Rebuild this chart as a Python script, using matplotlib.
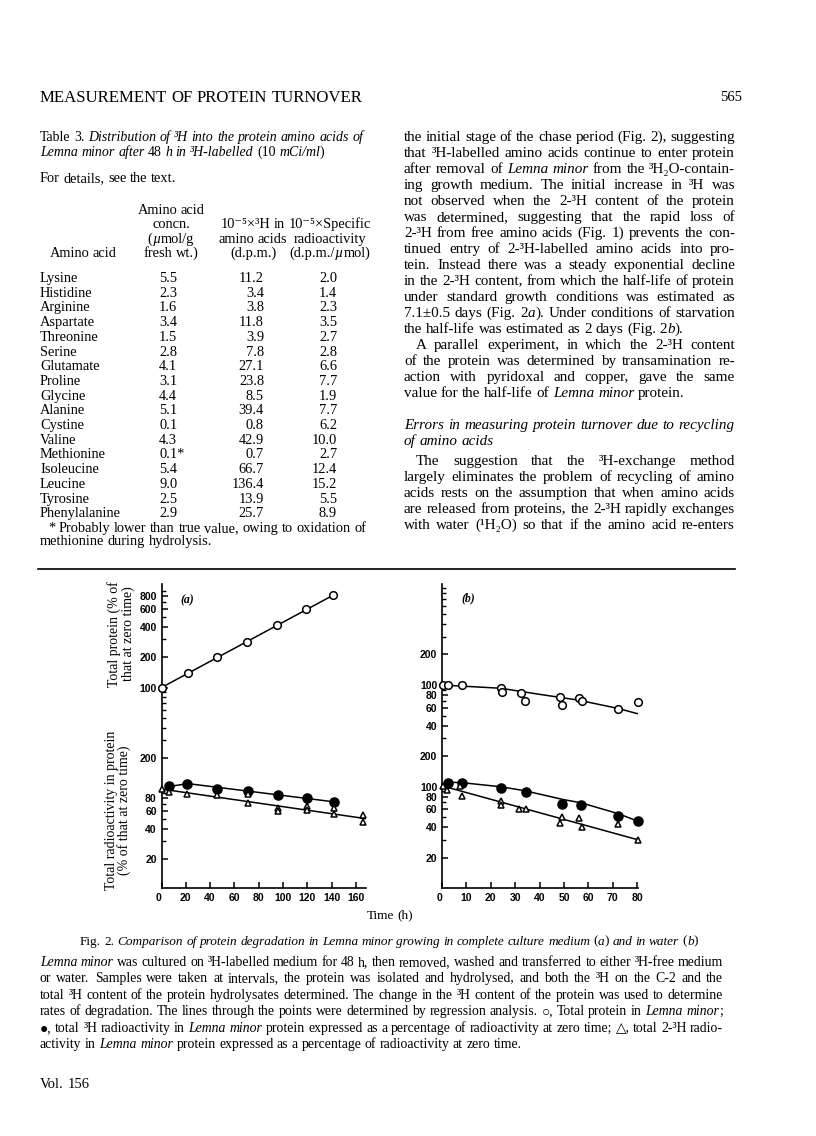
import numpy as np
import matplotlib
matplotlib.use("Agg")
import matplotlib.pyplot as plt
from matplotlib.ticker import FixedLocator, FixedFormatter, LogLocator, NullFormatter

# ---------------- Table 3 ----------------
amino_acids = ["Lysine", "Histidine", "Arginine", "Aspartate", "Threonine", "Serine",
               "Glutamate", "Proline", "Glycine", "Alanine", "Cystine", "Valine",
               "Methionine", "Isoleucine", "Leucine", "Tyrosine", "Phenylalanine"]
concn = [5.5, 2.3, 1.6, 3.4, 1.5, 2.8, 4.1, 3.1, 4.4, 5.1, 0.1, 4.3, 0.1, 5.4, 9.0, 2.5, 2.9]
h3_dpm = [11.2, 3.4, 3.8, 11.8, 3.9, 7.8, 27.1, 23.8, 8.5, 39.4, 0.8, 42.9, 0.7, 66.7, 136.4, 13.9, 25.7]
spec_act = [2.0, 1.4, 2.3, 3.5, 2.7, 2.8, 6.6, 7.7, 1.9, 7.7, 6.2, 10.0, 2.7, 12.4, 15.2, 5.5, 8.9]
concn_note = {"Methionine": "*"}

# ---------------- Fig. 2(a): complete culture medium ----------------
a_prot_t = [0, 22, 46, 70, 95, 119, 141]
a_prot_v = [100, 140, 200, 283, 417, 592, 820]
a_prot_fit_t = [0, 141]
a_prot_fit_v = [100, 815]
a_tot_t = [6, 21, 46, 71, 96, 120, 142]
a_tot_v = [105, 111, 99, 94, 86, 81, 74]
a_tot_fit_t = [6, 22, 142]
a_tot_fit_v = [105, 112, 74]
a_c2_t = [0, 6, 21, 46, 71, 71, 96, 96, 120, 120, 142, 142, 166, 166]
a_c2_v = [99, 93, 89, 86, 88, 72, 64, 59.5, 67, 62, 64, 56, 55, 47]
a_c2_fit_t = [0, 168]
a_c2_fit_v = [99, 50.5]

# ---------------- Fig. 2(b): water ----------------
b_prot_t = [0.5, 2.3, 8.3, 24, 24.7, 32.2, 34.2, 48.2, 49.2, 56, 57.2, 72.3, 80.3]
b_prot_v = [100, 100, 99, 94, 85, 83, 70, 76, 63, 75, 69, 58, 68]
b_prot_fit_t = [0, 24, 40, 56, 72, 80.5]
b_prot_fit_v = [100, 93, 81, 71, 59, 52]
b_tot_t = [2.6, 8.3, 24.2, 34.3, 49.3, 57, 72.3, 80.2]
b_tot_v = [110, 108, 98, 89, 68, 66, 51, 46]
b_tot_fit_t = [2, 8.3, 24, 34, 49.5, 57, 72.3, 80.5]
b_tot_fit_v = [111, 109.6, 100, 91.3, 75, 69.5, 54.3, 45.6]
b_c2_t = [0.5, 2.2, 7.3, 8, 24.2, 24.2, 31.7, 34.3, 48.4, 49.1, 56, 57.2, 72.3, 80.2]
b_c2_v = [102, 93, 101, 81, 72, 66, 61, 60, 44, 50, 49, 40, 43, 30]
b_c2_fit_t = [0, 80.5]
b_c2_fit_v = [102, 30]

# upper (total protein) curves sit one decade above the radioactivity curves
UP = 10
a_ticks = [8000, 6000, 4000, 2000, 1000, 200, 80, 60, 40, 20]
a_labels = ["800", "600", "400", "200", "100", "200", "80", "60", "40", "20"]
b_ticks = [2000, 1000, 800, 600, 400, 200, 100, 80, 60, 40, 20]
b_labels = ["200", "100", "80", "60", "40", "200", "100", "80", "60", "40", "20"]

# ---------------- page text ----------------
right_col = [
    "the initial stage of the chase period (Fig. 2), suggesting",
    "that ³H-labelled amino acids continue to enter protein",
    "after removal of {Lemna minor} from the ³H₂O-contain-",
    "ing growth medium. The initial increase in ³H was",
    "not observed when the 2-³H content of the protein",
    "was determined, suggesting that the rapid loss of",
    "2-³H from free amino acids (Fig. 1) prevents the con-",
    "tinued entry of 2-³H-labelled amino acids into pro-",
    "tein. Instead there was a steady exponential decline",
    "in the 2-³H content, from which the half-life of protein",
    "under standard growth conditions was estimated as",
    "7.1±0.5 days (Fig. 2{a}). Under conditions of starvation",
    "the half-life was estimated as 2 days (Fig. 2{b}).",
    "A parallel experiment, in which the 2-³H content",
    "of the protein was determined by transamination re-",
    "action with pyridoxal and copper, gave the same",
    "value for the half-life of {Lemna minor} protein.",
    "{Errors in measuring protein turnover due to recycling}",
    "{of amino acids}",
    "The suggestion that the ³H-exchange method",
    "largely eliminates the problem of recycling of amino",
    "acids rests on the assumption that when amino acids",
    "are released from proteins, the 2-³H rapidly exchanges",
    "with water (¹H₂O) so that if the amino acid re-enters",
]
right_y = [137 + 16 * i for i in range(17)] + [425, 441, 461, 477, 493, 509, 525]
right_last = {12, 16, 18}
right_indent = {13: 12, 19: 12}

caption = [
    "{Lemna minor} was cultured on ³H-labelled medium for 48 h, then removed, washed and transferred to either ³H-free medium",
    "or water. Samples were taken at intervals, the protein was isolated and hydrolysed, and both the ³H on the C-2 and the",
    "total ³H content of the protein hydrolysates determined. The change in the ³H content of the protein was used to determine",
    "rates of degradation. The lines through the points were determined by regression analysis. ○, Total protein in {Lemna minor};",
    "●, total ³H radioactivity in {Lemna minor} protein expressed as a percentage of radioactivity at zero time; △, total 2-³H radio-",
    "activity in {Lemna minor} protein expressed as a percentage of radioactivity at zero time.",
]

W, H = 816, 1136
plt.rcParams["font.family"] = ["Liberation Sans", "DejaVu Sans"]
plt.rcParams["font.weight"] = "bold"
SERIF = ["Liberation Serif", "DejaVu Serif"]

fig = plt.figure(figsize=(W / 100, H / 100), dpi=100)
renderer = fig.canvas.get_renderer()


def put(x, y, s, size, italic=False, ha="left"):
    # y is the visual middle of the line in page pixels
    em = size * 100 / 72
    return fig.text(x / W, 1 - (y + 0.28 * em) / H, s, fontsize=size, family=SERIF,
                    weight="normal", style="italic" if italic else "normal",
                    ha=ha, va="baseline")


def width(s, size, italic=False):
    t = put(0, 0, s, size, italic)
    w = t.get_window_extent(renderer).width
    t.remove()
    return w


def words_of(line):
    out, word, buf, ital = [], [], "", False
    for ch in line + " ":
        if ch in "{}":
            if buf:
                word.append((buf, ital))
                buf = ""
            ital = ch == "{"
        elif ch == " ":
            if buf:
                word.append((buf, ital))
                buf = ""
            if word:
                out.append(word)
                word = []
        else:
            buf += ch
    return out


def natural(line, size):
    ws = words_of(line)
    return sum(width(s, size, it) for w in ws for s, it in w) + 0.25 * size * 100 / 72 * (len(ws) - 1)


def fit(lines, span, size0=10.0):
    return size0 * span / max(natural(l, size0) for l in lines)


def line_out(line, x0, x1, y, size, mode="left", indent=0.0):
    ws = words_of(line)
    runs = [[(s, it, width(s, size, it)) for s, it in w] for w in ws]
    wlen = [sum(r[2] for r in w) for w in runs]
    sp = 0.25 * size * 100 / 72
    total = sum(wlen) + sp * (len(ws) - 1)
    x = x0 + indent
    if mode == "justify" and len(ws) > 1:
        sp = (x1 - x0 - indent - sum(wlen)) / (len(ws) - 1)
    elif mode == "center":
        x = (x0 + x1) / 2 - total / 2
    elif mode == "right":
        x = x1 - total
    for w, wl in zip(runs, wlen):
        for s, it, rw in w:
            put(x, y, s, size, it)
            x += rw
        x += sp


# ---- running head ----
line_out("MEASUREMENT OF PROTEIN TURNOVER", 40, 365, 97, fit(["MEASUREMENT OF PROTEIN TURNOVER"], 325), "left")
line_out("565", 700, 742, 97, 10.5, "right")

# ---- Table 3 ----
t1 = "Table 3. {Distribution of ³H into the protein amino acids of}"
tsize = fit([t1], 323)
line_out(t1, 40, 363, 137, tsize, "justify")
line_out("{Lemna minor after} 48 {h in ³H-labelled} (10 {mCi/ml})", 40, 363, 152, tsize)
foot = "* Probably lower than true value, owing to oxidation of"
fsize = fit([foot], 320)
line_out("For details, see the text.", 40, 363, 178, fsize)

hdr_y = [210, 224, 238.5, 253]
c1, c2, c3 = 171, 253, 330
line_out("Amino acid", c1, c1, hdr_y[0], fsize, "center")
line_out("concn.", c1, c1, hdr_y[1], fsize, "center")
line_out("({µ}mol/g", c1, c1, hdr_y[2], fsize, "center")
line_out("fresh wt.)", c1, c1, hdr_y[3], fsize, "center")
line_out("10⁻⁵×³H in", c2, c2, hdr_y[1], fsize, "center")
line_out("amino acids", c2, c2, hdr_y[2], fsize, "center")
line_out("(d.p.m.)", c2, c2, hdr_y[3], fsize, "center")
line_out("10⁻⁵×Specific", c3, c3, hdr_y[1], fsize, "center")
line_out("radioactivity", c3, c3, hdr_y[2], fsize, "center")
line_out("(d.p.m./{µ}mol)", c3, c3, hdr_y[3], fsize, "center")
line_out("Amino acid", 83, 83, hdr_y[3], fsize, "center")

for i, name in enumerate(amino_acids):
    y = 278 + 14.7 * i
    put(40, y, name, fsize)
    put(159, y, f"{concn[i]:.1f}{concn_note.get(name, '')}", fsize)
    put(264, y, f"{h3_dpm[i]:.1f}", fsize, ha="right")
    put(337, y, f"{spec_act[i]:.1f}", fsize, ha="right")
line_out(foot, 48, 368, 528, fsize)
line_out("methionine during hydrolysis.", 40, 368, 541, fsize)

# ---- right column ----
rsize = fit([l for i, l in enumerate(right_col) if i not in right_last], 331)
for i, (l, y) in enumerate(zip(right_col, right_y)):
    mode = "left" if i in right_last else "justify"
    line_out(l, 404, 735, y, rsize, mode, right_indent.get(i, 0))

fig.add_artist(plt.Line2D([38 / W, 735 / W], [1 - 569 / H] * 2, color="k", lw=1.2))


# ---- Fig. 2 panels ----
def panel(rect, xmax, xticks, ylim, ticks, labels):
    ax = fig.add_axes(rect)
    ax.set_yscale("log")
    ax.set_xlim(0, xmax)
    ax.set_ylim(*ylim)
    for s in ("top", "right"):
        ax.spines[s].set_visible(False)
    for s in ("left", "bottom"):
        ax.spines[s].set_linewidth(1.2)
    ax.yaxis.set_major_locator(FixedLocator(ticks))
    ax.yaxis.set_major_formatter(FixedFormatter(labels))
    ax.yaxis.set_minor_locator(LogLocator(base=10, subs=np.arange(2, 10), numticks=30))
    ax.yaxis.set_minor_formatter(NullFormatter())
    ax.set_xticks(xticks)
    ax.set_xticklabels([str(v) for v in xticks])
    ax.tick_params(which="major", direction="in", length=4.5, width=1.1, labelsize=7.5, pad=3.5)
    ax.tick_params(which="minor", direction="in", length=3.2, width=1.0)
    ax.xaxis.get_major_ticks()[0].label1.set_horizontalalignment("right")
    ax.patch.set_alpha(0)
    return ax


def draw(ax, t, v, fit_t, fit_v, marker, filled, scale=1, ms=5.5):
    ax.plot(fit_t, np.array(fit_v) * scale, color="k", lw=1.1, zorder=2)
    ax.plot(t, np.array(v) * scale, marker, ls="none", ms=ms, mew=1.1, mec="k",
            mfc="k" if filled else "white", clip_on=False, zorder=3)


axA = panel([161.5 / W, 1 - 888 / H, 204.1 / W, 304 / H], 168,
            [0, 20, 40, 60, 80, 100, 120, 140, 160], (10.4, 10570), a_ticks, a_labels)
draw(axA, a_prot_t, a_prot_v, a_prot_fit_t, a_prot_fit_v, "o", False, UP)
draw(axA, a_tot_t, a_tot_v, a_tot_fit_t, a_tot_fit_v, "o", True, 1, 6.5)
draw(axA, a_c2_t, a_c2_v, a_c2_fit_t, a_c2_fit_v, "^", False, 1, 5)

axB = panel([442 / W, 1 - 888 / H, 196.4 / W, 304 / H], 80.5,
            [0, 10, 20, 30, 40, 50, 60, 70, 80], (10.1, 9850), b_ticks, b_labels)
draw(axB, b_prot_t, b_prot_v, b_prot_fit_t, b_prot_fit_v, "o", False, UP)
draw(axB, b_tot_t, b_tot_v, b_tot_fit_t, b_tot_fit_v, "o", True, 1, 6.5)
draw(axB, b_c2_t, b_c2_v, b_c2_fit_t, b_c2_fit_v, "^", False, 1, 5)

fig.text(187 / W, 1 - 600 / H, "(a)", family=SERIF, style="italic", weight="bold",
         fontsize=8.5, ha="center", va="center")
fig.text(468 / W, 1 - 598 / H, "(b)", family=SERIF, style="italic", weight="bold",
         fontsize=8.5, ha="center", va="center")
fig.text(121 / W, 1 - 634 / H, "Total protein (% of\nthat at zero time)", family=SERIF,
         weight="normal", fontsize=10, rotation=90, ha="center", va="center",
         multialignment="center", linespacing=1.0)
fig.text(118 / W, 1 - 810 / H, "Total radioactivity in protein\n(% of that at zero time)",
         family=SERIF, weight="normal", fontsize=10, rotation=90, ha="center",
         va="center", multialignment="center", linespacing=1.0)

line_out("Time (h)", 390, 390, 915, 9.5, "center")
figcap = "Fig. 2. {Comparison of protein degradation in Lemna minor growing in complete culture medium} ({a}) {and in water} ({b})"
line_out(figcap, 389, 389, 941, fit([figcap], 618), "center")

csize = fit(caption[:-1], 683)
for i, l in enumerate(caption):
    line_out(l, 40, 723, 962 + 16.5 * i, csize, "left" if i == len(caption) - 1 else "justify")
line_out("Vol. 156", 40, 200, 1084, 10.5)

fig.savefig("out.png", dpi=100)
